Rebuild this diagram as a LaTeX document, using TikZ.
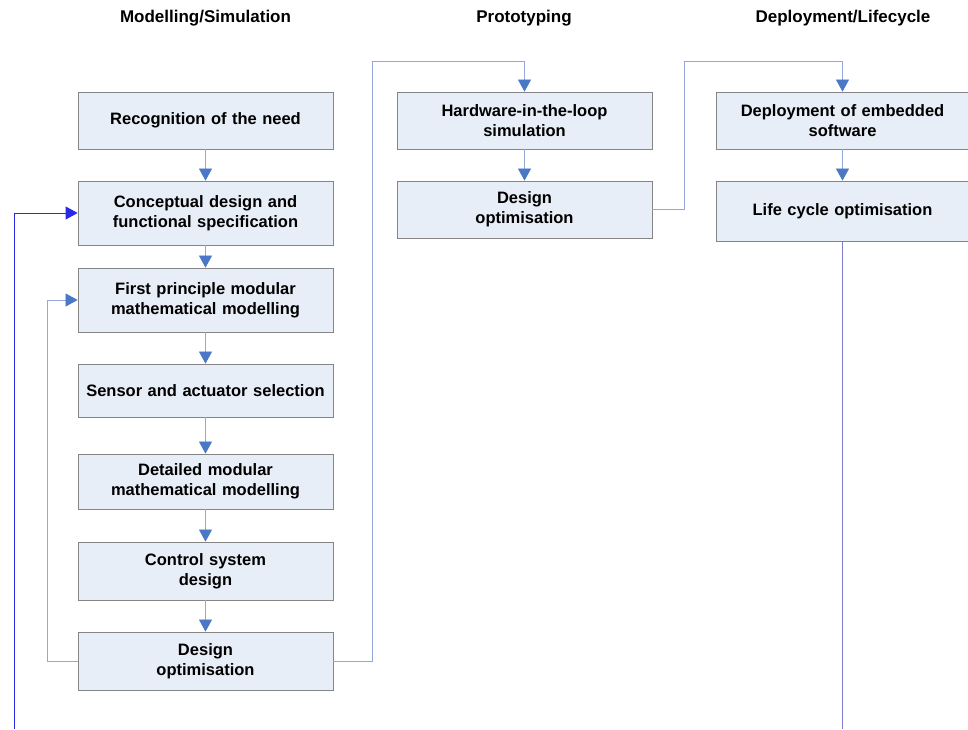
\documentclass[tikz,border=0pt]{standalone}
\usepackage{fontspec}
\setmainfont{Liberation Sans}
\usetikzlibrary{arrows.meta,calc}
\definecolor{boxfill}{HTML}{E8EEF7}
\definecolor{boxdraw}{HTML}{858585}
\definecolor{arr}{HTML}{4A78C6}
\definecolor{lnk}{HTML}{92A8D8}
\definecolor{fb}{HTML}{2A2AE6}
\definecolor{tailc}{HTML}{7F7FD0}
\begin{document}
\begin{tikzpicture}[x=1pt,y=-1pt,
  box/.style={draw=boxdraw, line width=0.8pt, fill=boxfill, minimum width=255pt, text width=250pt, align=center, inner sep=0pt, font=\fontsize{16.5}{20}\selectfont\bfseries},
  hdr/.style={font=\fontsize{17}{20}\selectfont\bfseries, inner sep=0pt},
  link/.style={draw=lnk, line width=0.7pt, -{Triangle[width=13pt,length=12pt,color=arr,fill=arr]}},
  fbk/.style={draw=fb, line width=0.8pt, -{Triangle[width=13pt,length=12pt,color=fb,fill=fb]}},
  tailline/.style={draw=tailc, line width=1.2pt}]
\useasboundingbox (0,0) rectangle (968,729);
\fill[white] (0,0) rectangle (968,729);
% headers
\node[hdr] (h1) at (205.5,18) {Modelling/Simulation};
\node[hdr] (h2) at (524,18) {Prototyping};
\node[hdr] (h3) at (843,18) {Deployment/Lifecycle};
% left column
\node[box, minimum height=57pt] (rec) at (205.5,120.5) {Recognition of the need};
\node[box, minimum height=64pt] (con) at (205.5,213) {Conceptual design and\\functional specification};
\node[box, minimum height=64pt] (fir) at (205.5,300) {First principle modular\\mathematical modelling};
\node[box, minimum height=53pt] (sen) at (205.5,390.5) {Sensor and actuator selection};
\node[box, minimum height=55pt] (det) at (205.5,481.5) {Detailed modular\\mathematical modelling};
\node[box, minimum height=58pt] (ctl) at (205.5,571) {Control system\\design};
\node[box, minimum height=58pt] (dol) at (205.5,661) {Design\\optimisation};
% middle column
\node[box, minimum height=57pt] (hil) at (524.5,120.5) {Hardware-in-the-loop\\simulation};
\node[box, minimum height=57pt] (dom) at (524.5,209.5) {Design\\optimisation};
% right column
\node[box, minimum height=57pt, minimum width=252pt, text width=245pt] (dep) at (842.5,120.5) {Deployment of embedded\\software};
\node[box, minimum height=60pt, minimum width=252pt, text width=245pt] (lif) at (842.5,211) {Life cycle optimisation};
% vertical arrows
\draw[link] (rec) -- (con);
\draw[link] (con) -- (fir);
\draw[link] (fir) -- (sen);
\draw[link] (sen) -- (det);
\draw[link] (det) -- (ctl);
\draw[link] (ctl) -- (dol);
\draw[link] (hil) -- (dom);
\draw[link] (dep) -- (lif);
% inner feedback
\draw[link] (dol.west) -- ++(-30,0) |- (fir.west);
% outer feedback
\coordinate (fbs) at (14,729);
\draw[fbk] (fbs) |- (con.west);
% to prototyping
\draw[link] (dol.east) -- ++(39,0) |- ($(hil.north)+(0,-30)$) -- (hil.north);
% to deployment
\draw[link] (dom.east) -- ++(32,0) |- ($(dep.north)+(0,-30)$) -- (dep.north);
% tail
\coordinate (tend) at (lif.south |- 0,729);
\draw[tailline] (lif.south) -- (tend);
\end{tikzpicture}
\end{document}
